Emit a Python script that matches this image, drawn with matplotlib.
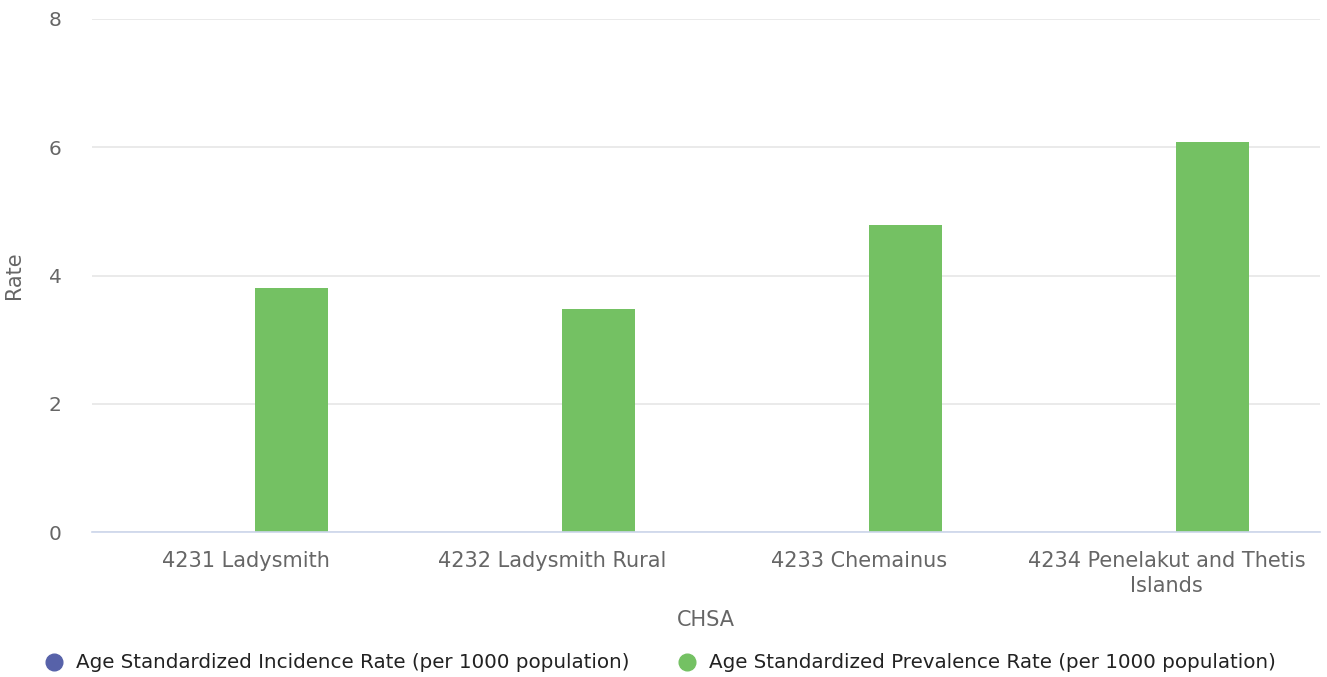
import numpy as np
import matplotlib
matplotlib.use('Agg')
import matplotlib.pyplot as plt
from matplotlib.lines import Line2D

# Data
categories = ['4231 Ladysmith', '4232 Ladysmith Rural', '4233 Chemainus',
              '4234 Penelakut and Thetis\nIslands']
incidence = [0, 0, 0, 0]
prevalence = [3.81, 3.48, 4.78, 6.08]
series_names = ['Age Standardized Incidence Rate (per 1000 population)',
                'Age Standardized Prevalence Rate (per 1000 population)']
y_ticks = [0, 2, 4, 6, 8]

blue = '#5762a9'
green = '#74c163'

fig = plt.figure(figsize=(13.27, 6.77), dpi=100)
ax = fig.add_axes([92 / 1327, 1 - 532 / 677, 1228 / 1327, 513 / 677])

x = np.arange(len(categories))
width = 0.235
ax.bar(x - 0.15, incidence, width, color=blue)
ax.bar(x + 0.15, prevalence, width, color=green, zorder=3)

ax.set_xlim(-0.5, len(categories) - 0.5)
ax.set_ylim(0, 8)
ax.set_yticks(y_ticks)
ax.set_xticks(x)
ax.set_xticklabels(categories, linespacing=1.3)
ax.grid(axis='y', color='#e6e6e6', linewidth=1.2, zorder=0)
ax.set_axisbelow(True)

for s in ['top', 'right', 'left']:
    ax.spines[s].set_visible(False)
ax.spines['bottom'].set_color('#ccd6eb')
ax.spines['bottom'].set_linewidth(1.2)
ax.spines['bottom'].set_zorder(4)

ax.tick_params(axis='both', length=0, labelcolor='#666666')
ax.tick_params(axis='x', labelsize=15, pad=14)
ax.tick_params(axis='y', labelsize=14.5, pad=22)

ax.set_xlabel('CHSA', fontsize=15, color='#666666', labelpad=10)
ax.set_ylabel('Rate', fontsize=15, color='#666666', labelpad=18)

handles = [Line2D([], [], marker='o', linestyle='none', markersize=12,
                  markerfacecolor=c, markeredgecolor=c) for c in (blue, green)]
fig.legend(handles, series_names, loc='center left',
           bbox_to_anchor=(36 / 1327, 1 - 663 / 677), borderaxespad=0,
           ncol=2, frameon=False, fontsize=14.3, handlelength=1.0,
           handletextpad=0.6, columnspacing=2.4, labelcolor='#222222')

fig.savefig('out.png', dpi=100)
